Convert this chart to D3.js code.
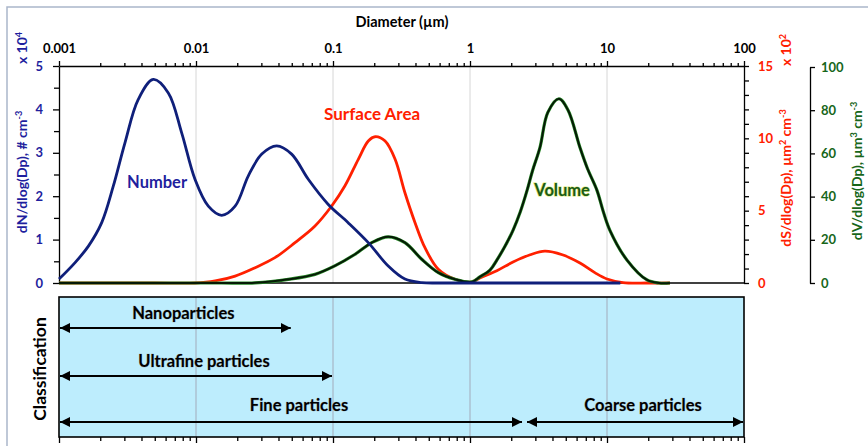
<!DOCTYPE html>
<html lang="en">
<head>
    <meta charset="UTF-8">
    <title>Particle size distribution</title>
    <script src="https://d3js.org/d3.v7.min.js"></script>
    <style>
        body {margin: 0; background: white;}
        svg {display: block; font-family: Lato, "Open Sans", sans-serif; font-weight: bold;}
        .axis path, .axis line {stroke: black; stroke-width: 1.3;}
        .axis text {font-family: Lato, sans-serif; font-weight: bold; font-size: 13px;}
    </style>
</head>
<body>
<script>
    const width = 868;
    const height = 446;

    // number distribution, x 10^4 # cm-3
    const numDp  = [0.001, 0.00131, 0.00164, 0.00205, 0.00249, 0.00303, 0.00379, 0.00488, 0.00628, 0.00786, 0.00983,
                    0.0123, 0.0154, 0.0193, 0.0241, 0.0302, 0.0388, 0.0499, 0.066, 0.0924, 0.129, 0.181, 0.253,
                    0.335, 0.444, 0.6, 1.5, 12.5];
    const numVal = [0.09, 0.47, 0.85, 1.39, 2.23, 3.23, 4.23, 4.69, 4.38, 3.46, 2.39,
                    1.77, 1.56, 1.77, 2.47, 2.97, 3.16, 2.97, 2.39, 1.81, 1.39, 0.93, 0.39,
                    0.09, 0.01, 0, 0, 0];

    // surface area distribution, x 10^2 um2 cm-3
    const surfDp  = [0.001, 0.005, 0.00983, 0.0138, 0.0193, 0.027, 0.0377, 0.0528, 0.0739, 0.0978, 0.122, 0.153,
                     0.181, 0.203, 0.24, 0.284, 0.335, 0.397, 0.469, 0.587, 0.777, 1.03, 1.18, 1.57, 2.06, 2.75,
                     3.52, 4.72, 6.35, 8.2, 10, 13.1, 20, 28.8];
    const surfVal = [0, 0, 0, 0.14, 0.48, 1.06, 1.75, 2.79, 3.94, 5.32, 6.7, 8.55,
                     9.81, 10.11, 9.81, 8.55, 6.24, 4.17, 2.44, 0.95, 0.26, 0.07, 0.35, 0.85, 1.45, 1.95,
                     2.2, 1.95, 1.38, 0.7, 0.28, 0.03, 0, 0];

    // volume distribution, um3 cm-3
    const volDp  = [0.001, 0.005, 0.015, 0.027, 0.0472, 0.0739, 0.103, 0.145, 0.192, 0.253, 0.335, 0.444, 0.587,
                    0.777, 1.03, 1.18, 1.4, 1.57, 1.8, 2.06, 2.33, 2.61, 2.86, 3.24, 3.7, 4.46, 5.2, 6.35, 7.2,
                    8.45, 9.4, 10.5, 14.0, 19.6, 24, 28.8];
    const volVal = [0, 0, 0, 0.1, 1.7, 4.0, 7.9, 13.3, 18.7, 21.4, 18.7, 11.0, 4.8,
                    1.7, 0.5, 2.8, 6, 10.6, 17, 24.4, 33, 42.9, 52, 62.7, 79, 85.3, 80, 62.7, 53,
                    42.9, 33, 24.4, 10.6, 1.4, 0, 0];

    // size classes (um)
    const classNames = ["Nanoparticles", "Ultrafine particles", "Fine particles", "Coarse particles"];
    const classFrom  = [0.001, 0.001, 0.001, 2.5];
    const classTo    = [0.05, 0.1, 2.5, 100];
    const classRow   = [0, 1, 2, 2];

    const diamTicks = [0.001, 0.01, 0.1, 1, 10, 100];
    const numTicks  = [0, 1, 2, 3, 4, 5];
    const surfTicks = [0, 5, 10, 15];
    const volTicks  = [0, 20, 40, 60, 80, 100];

    const blue = "#1f1f9e", navy = "#0f1f7a", red = "#ff2000", green = "#17661a";

    const svg = d3.select("body").append("svg")
            .attr("width", width).attr("height", height);

    // outer frame
    svg.append("rect").attr("x", 7).attr("y", 7).attr("width", 900).attr("height", 500)
            .attr("fill", "none").attr("stroke", "#aab6ca").attr("stroke-width", 1.5);

    const x = d3.scaleLog().domain([0.001, 100]).range([59, 744]);
    const yN = d3.scaleLinear().domain([0, 5]).range([283, 66]);
    const yS = d3.scaleLinear().domain([0, 15]).range([283, 66]);
    const yV = d3.scaleLinear().domain([0, 100]).range([283, 67]);

    const minorTicks = [];
    for (let e = -3; e < 2; e++) for (let k = 2; k <= 9; k++) minorTicks.push(k * Math.pow(10, e));

    // gridlines in the plot
    svg.append("g").selectAll("line").data(diamTicks.slice(1, -1)).enter()
            .append("line")
            .attr("x1", d => x(d)).attr("x2", d => x(d))
            .attr("y1", 66).attr("y2", 283)
            .attr("stroke", "#d6d6d6").attr("stroke-width", 1);

    // classification box
    const boxTop = 297, boxBottom = 437;
    svg.append("rect").attr("x", x(0.001)).attr("y", boxTop)
            .attr("width", x(100) - x(0.001)).attr("height", boxBottom - boxTop)
            .attr("fill", "#bdedfd");
    svg.append("g").selectAll("line").data(diamTicks.slice(1, -1)).enter()
            .append("line")
            .attr("x1", d => x(d)).attr("x2", d => x(d))
            .attr("y1", boxTop).attr("y2", boxBottom)
            .attr("stroke", "#a7b6c6").attr("stroke-width", 1.2);
    svg.append("rect").attr("x", x(0.001)).attr("y", boxTop)
            .attr("width", x(100) - x(0.001)).attr("height", boxBottom - boxTop)
            .attr("fill", "none").attr("stroke", "black").attr("stroke-width", 1.6);

    // arrow heads
    const defs = svg.append("defs");
    defs.append("marker").attr("id", "head")
            .attr("viewBox", "0 0 10 10").attr("refX", 10).attr("refY", 5)
            .attr("markerWidth", 10).attr("markerHeight", 10)
            .attr("markerUnits", "userSpaceOnUse")
            .attr("orient", "auto-start-reverse")
            .append("path").attr("d", "M0,0L10,5L0,10Z").attr("fill", "black");

    const rowArrowY = [328, 376, 422];
    const rowLabelY = [313, 361, 405];

    const cls = svg.append("g");
    classNames.forEach((name, i) => {
        let x1 = x(classFrom[i]), x2 = x(classTo[i]);
        if (classFrom[i] > 0.001) x1 += 1.5;
        if (classTo[i] < 100 && classRow[i] === 2) x2 -= 1.5;
        cls.append("line")
                .attr("x1", x1 + 1).attr("x2", x2 - 1)
                .attr("y1", rowArrowY[classRow[i]]).attr("y2", rowArrowY[classRow[i]])
                .attr("stroke", "black").attr("stroke-width", 2.2)
                .attr("marker-start", "url(#head)").attr("marker-end", "url(#head)");
        cls.append("text")
                .attr("x", (x1 + x2) / 2 + 8).attr("y", rowLabelY[classRow[i]])
                .attr("dy", "0.35em").attr("text-anchor", "middle")
                .attr("font-size", 16.5).attr("fill", "black")
                .style("paint-order", "stroke").attr("stroke", "#9aa8b0").attr("stroke-width", 0.6)
                .text(name);
    });
    svg.append("text")
            .attr("transform", "translate(40,369) rotate(-90)")
            .attr("text-anchor", "middle").attr("dy", "0.35em")
            .attr("font-size", 17.5).text("Classification");

    // bottom axis of the box
    svg.append("g").attr("class", "axis").attr("transform", `translate(0,${boxBottom})`)
            .call(d3.axisBottom(x).tickValues(diamTicks).tickSize(6).tickFormat(""))
            .call(g => g.select(".domain").remove());
    svg.append("g").attr("class", "axis").attr("transform", `translate(0,${boxBottom})`)
            .call(d3.axisBottom(x).tickValues(minorTicks).tickSize(4).tickFormat(""))
            .call(g => g.select(".domain").remove());

    // top axis
    const fmt = d => d < 1 ? String(d) : d3.format("d")(d);
    svg.append("g").attr("class", "axis").attr("transform", "translate(0,66)")
            .call(d3.axisTop(x).tickValues(diamTicks).tickSize(5).tickSizeOuter(0).tickPadding(8).tickFormat(fmt))
            .call(g => g.selectAll("text").attr("fill", "black").attr("font-size", 13.5));
    svg.append("g").attr("class", "axis").attr("transform", "translate(0,66)")
            .call(d3.axisTop(x).tickValues(minorTicks).tickSize(3).tickFormat(""))
            .call(g => g.select(".domain").remove());
    svg.append("text").attr("x", 402).attr("y", 22).attr("dy", "0.35em")
            .attr("text-anchor", "middle").attr("font-size", 14.5).attr("fill", "black")
            .text("Diameter (µm)");

    // bottom line of plot
    svg.append("line").attr("x1", 59).attr("x2", 744).attr("y1", 283).attr("y2", 283)
            .attr("stroke", "black").attr("stroke-width", 1.3);

    // left axis (number)
    svg.append("g").attr("class", "axis").attr("transform", "translate(59,0)")
            .call(d3.axisLeft(yN).tickValues(numTicks).tickSize(6).tickSizeOuter(0).tickPadding(10).tickFormat(d3.format("d")))
            .call(g => g.selectAll("text").attr("fill", blue).attr("font-size", 14.5));
    svg.append("g").attr("class", "axis").attr("transform", "translate(59,0)")
            .call(d3.axisLeft(yN).tickValues(d3.range(0.5, 5, 1)).tickSize(5).tickFormat(""))
            .call(g => g.select(".domain").remove());

    // right axis (surface)
    svg.append("g").attr("class", "axis").attr("transform", "translate(744,0)")
            .call(d3.axisRight(yS).tickValues(d3.range(0, 16, 1)).tickSize(5).tickSizeOuter(0).tickPadding(9)
                    .tickFormat(d => surfTicks.includes(d) ? d : ""))
            .call(g => g.selectAll("text").attr("fill", red).attr("font-size", 14.5));

    // far right axis (volume)
    svg.append("g").attr("class", "axis").attr("transform", "translate(810,0)")
            .call(d3.axisRight(yV).tickValues(volTicks).tickSize(5).tickSizeOuter(0).tickPadding(6))
            .call(g => g.selectAll("text").attr("fill", green).attr("font-size", 14.5));

    // axis titles
    function rotLabel(cx, cy, color, parts, size) {
        const t = svg.append("text")
                .attr("transform", `translate(${cx},${cy}) rotate(-90)`)
                .attr("text-anchor", "middle").attr("dy", "0.35em")
                .attr("font-size", size).attr("fill", color);
        parts.forEach(p => {
            const s = t.append("tspan").text(p[0]);
            if (p[1]) s.attr("baseline-shift", "super").attr("font-size", size * 0.65);
        });
    }
    rotLabel(22, 172, blue, [["dN/dlog(Dp), # cm"], ["-3", 1]], 14);
    rotLabel(22, 48, blue, [["x 10"], ["4", 1]], 14);
    rotLabel(786, 178, red, [["dS/dlog(Dp), µm"], ["2", 1], [" cm"], ["-3", 1]], 14);
    rotLabel(786, 50, red, [["x 10"], ["2", 1]], 14);
    rotLabel(857, 171, green, [["dV/dlog(Dp), µm"], ["3", 1], [" cm"], ["-3", 1]], 14);

    // curves
    const pts = (dp, v) => dp.map((d, i) => [d, v[i]]);
    const line = y => d3.line().x(d => x(d[0])).y(d => y(d[1]))
            .curve(d3.curveCatmullRom.alpha(0.5));

    svg.append("path").datum(pts(surfDp, surfVal))
            .attr("d", line(yS)).attr("fill", "none").attr("stroke", red).attr("stroke-width", 2.8);
    svg.append("path").datum(pts(volDp, volVal))
            .attr("d", line(yV)).attr("fill", "none").attr("stroke", "#2a8a2a").attr("stroke-width", 3.2);
    svg.append("path").datum(pts(volDp, volVal))
            .attr("d", line(yV)).attr("fill", "none").attr("stroke", "#051a05").attr("stroke-width", 2);
    svg.append("path").datum(pts(numDp, numVal))
            .attr("d", line(yN)).attr("fill", "none").attr("stroke", navy).attr("stroke-width", 2.8);

    // curve labels
    svg.append("text").attr("x", x(0.0052)).attr("y", yN(2.33)).attr("dy", "0.35em")
            .attr("text-anchor", "middle").attr("font-size", 16.5).attr("fill", blue).text("Number");
    svg.append("text").attr("x", x(0.193)).attr("y", yS(11.7)).attr("dy", "0.35em")
            .attr("text-anchor", "middle").attr("font-size", 17).attr("fill", red).text("Surface Area");
    svg.append("text").attr("x", x(4.7)).attr("y", yV(42.9)).attr("dy", "0.35em")
            .attr("text-anchor", "middle").attr("font-size", 16.5).attr("fill", "#1a5a1a")
            .style("paint-order", "stroke").attr("stroke", "#d8e86a").attr("stroke-width", 1.2)
            .text("Volume");
</script>
</body>
</html>
